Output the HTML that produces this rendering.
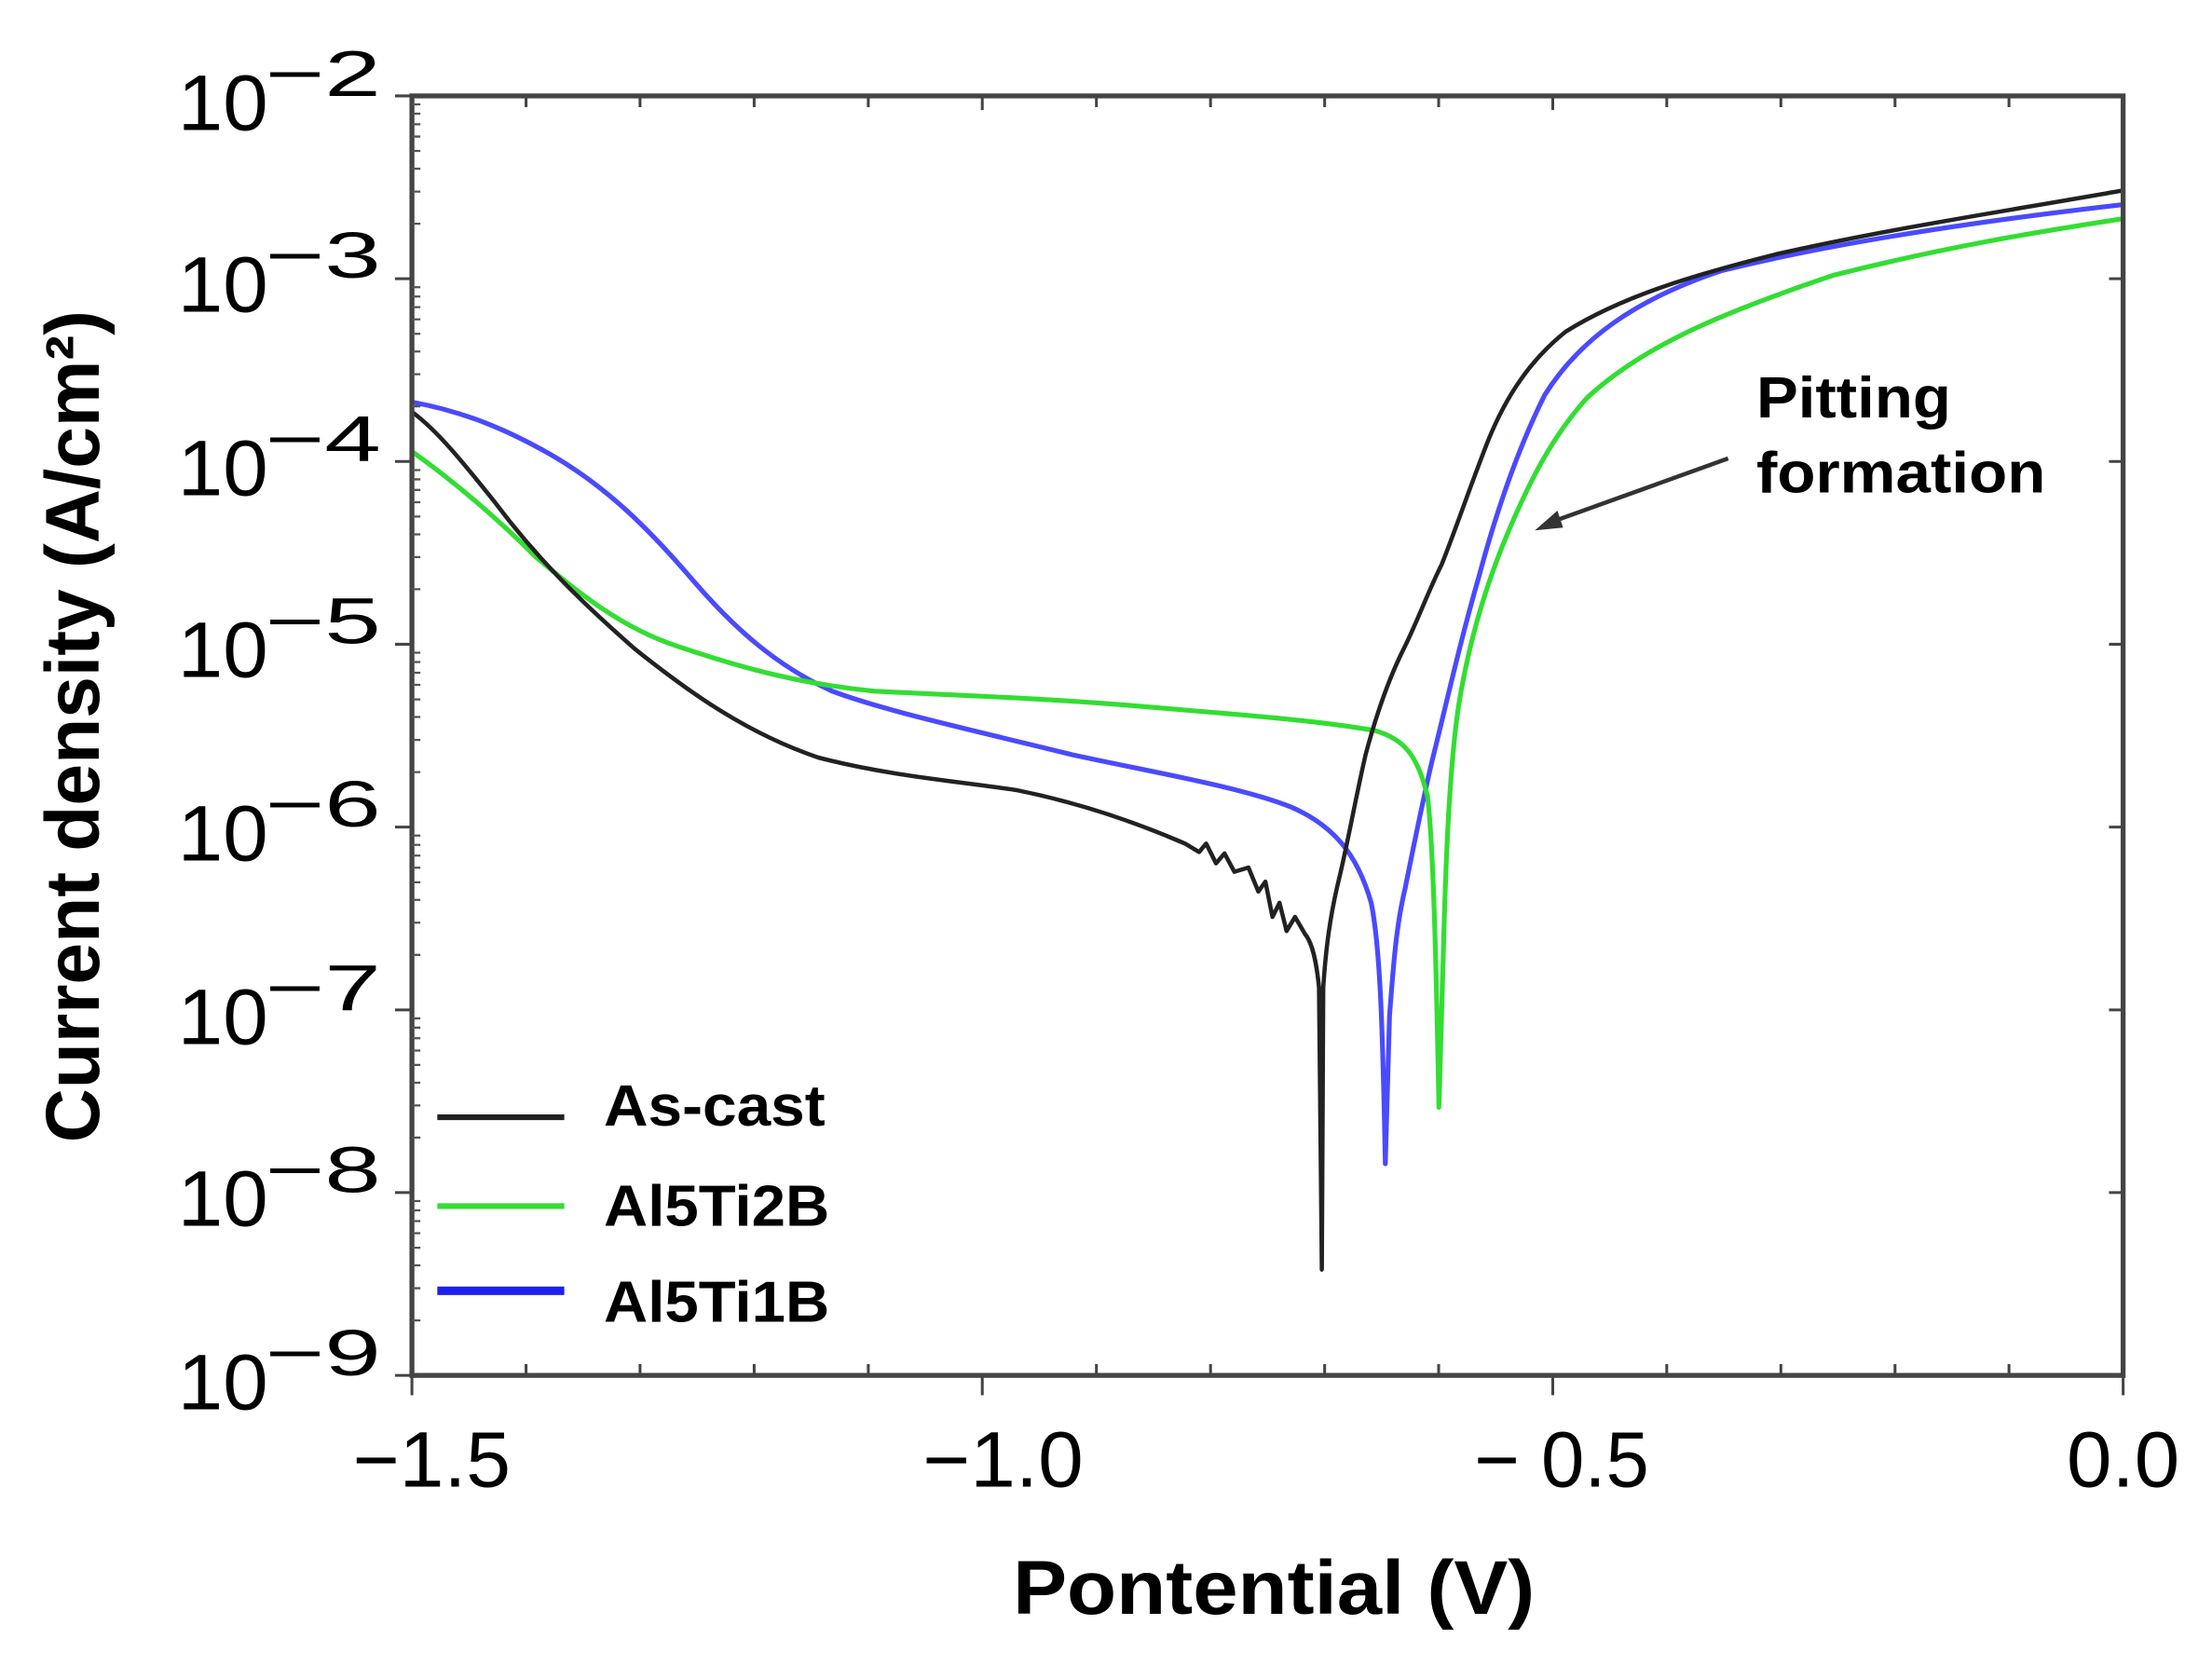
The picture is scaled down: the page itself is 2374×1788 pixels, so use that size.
<!DOCTYPE html>
<html><head><meta charset="utf-8"><style>
html,body{margin:0;padding:0;background:#fff;}
svg{display:block;}
text{font-family:"Liberation Sans",Arial,sans-serif;fill:#000;}
</style></head><body>
<svg width="2374" height="1788" viewBox="0 0 1568 1181" preserveAspectRatio="none" xmlns="http://www.w3.org/2000/svg">
<rect width="1568" height="1181" fill="#fff"/>
<g fill="none" stroke-width="3.4" stroke-linejoin="round">
<path stroke="#4a4aff" d="M292,285 C330,292 360,305 390,322 C430,345 460,375 490,410 C520,445 550,472 590,490 C630,505 700,520 760,535 C820,548 880,558 915,572 C945,585 962,605 972,640 C978,670 980,720 982,825 L985,720 C988,680 990,655 996,630 C1002,600 1008,570 1015,540 C1025,500 1035,455 1048,410 C1060,365 1075,320 1095,280 C1120,240 1160,212 1220,192 C1300,172 1400,157 1505,145"/>
<path stroke="#33dd33" d="M292,320 C320,340 350,365 380,395 C410,420 440,445 480,458 C530,475 570,485 620,490 C680,493 740,495 800,500 C870,506 930,510 975,518 C995,524 1005,535 1012,565 C1016,600 1018,680 1020,785 L1023,680 C1025,600 1028,540 1034,500 C1042,450 1055,410 1070,375 C1085,340 1100,310 1125,282 C1165,245 1220,222 1300,195 C1380,175 1440,165 1505,155"/>
<path stroke="#222" stroke-width="3" d="M292,292 C310,305 330,330 350,355 C380,395 410,425 450,460 C490,492 530,520 580,537 C630,550 680,554 720,560 C770,570 810,585 840,598 L850,604 L855,598 L862,612 L868,605 L875,618 L885,615 L892,632 L897,625 L902,650 L907,640 L912,660 L918,650 L925,662 C930,668 933,680 935,700 L937,900 L938,700 C940,670 943,650 948,628 C955,600 960,570 968,535 C976,505 985,480 995,460 C1005,440 1012,420 1022,400 C1032,375 1042,345 1055,312 C1068,280 1085,255 1110,235 C1150,210 1200,195 1260,180 C1340,162 1420,150 1505,135"/>
</g>
<rect x="292" y="68" width="1213" height="907" fill="none" stroke="#444" stroke-width="3.5"/>
<g stroke="#444" stroke-width="2">
<path d="M292,975v14M696.3,975v14M1100.7,975v14M1505,975v14"/>
<path d="M292,68v10M696.3,68v10M1100.7,68v10M1505,68v10"/>
<path d="M372.9,975v-8M453.7,975v-8M534.6,975v-8M615.5,975v-8M777.2,975v-8M858.1,975v-8M939,975v-8M1019.8,975v-8M1181.5,975v-8M1262.4,975v-8M1343.3,975v-8M1424.1,975v-8"/>
<path d="M372.9,68v8M453.7,68v8M534.6,68v8M615.5,68v8M777.2,68v8M858.1,68v8M939,68v8M1019.8,68v8M1181.5,68v8M1262.4,68v8M1343.3,68v8M1424.1,68v8"/>
<path d="M280,68h12M280,197.6h12M280,327.1h12M280,456.7h12M280,586.3h12M280,715.9h12M280,845.4h12M280,975h12"/>
<path d="M1505,197.6h-10M1505,327.1h-10M1505,456.7h-10M1505,586.3h-10M1505,715.9h-10M1505,845.4h-10"/>
</g>
<g stroke="#555" stroke-width="1.5">
<path d="M292,158.6h6M292,135.8h6M292,119.6h6M292,107h6M292,96.8h6M292,88.1h6M292,80.6h6M292,74h6
M292,288.1h6M292,265.3h6M292,249.2h6M292,236.6h6M292,226.4h6M292,217.7h6M292,210.2h6M292,203.6h6
M292,417.7h6M292,394.9h6M292,378.8h6M292,366.2h6M292,356h6M292,347.3h6M292,339.8h6M292,333.2h6
M292,547.3h6M292,524.5h6M292,508.3h6M292,495.8h6M292,485.5h6M292,476.9h6M292,469.3h6M292,462.7h6
M292,676.9h6M292,654.1h6M292,637.9h6M292,625.4h6M292,615.1h6M292,606.5h6M292,598.9h6M292,592.3h6
M292,806.4h6M292,783.6h6M292,767.5h6M292,754.9h6M292,744.7h6M292,736h6M292,728.5h6M292,721.9h6
M292,936h6M292,913.2h6M292,897h6M292,884.5h6M292,874.2h6M292,865.6h6M292,858h6M292,851.4h6"/>
</g>
<g font-size="56">
<text x="126" y="92" textLength="64" lengthAdjust="spacingAndGlyphs">10</text><text x="188" y="68" font-size="46" textLength="82" lengthAdjust="spacingAndGlyphs">−2</text>
<text x="126" y="221" textLength="64" lengthAdjust="spacingAndGlyphs">10</text><text x="188" y="197" font-size="46" textLength="82" lengthAdjust="spacingAndGlyphs">−3</text>
<text x="126" y="351" textLength="64" lengthAdjust="spacingAndGlyphs">10</text><text x="188" y="327" font-size="46" textLength="82" lengthAdjust="spacingAndGlyphs">−4</text>
<text x="126" y="480" textLength="64" lengthAdjust="spacingAndGlyphs">10</text><text x="188" y="456" font-size="46" textLength="82" lengthAdjust="spacingAndGlyphs">−5</text>
<text x="126" y="610" textLength="64" lengthAdjust="spacingAndGlyphs">10</text><text x="188" y="586" font-size="46" textLength="82" lengthAdjust="spacingAndGlyphs">−6</text>
<text x="126" y="740" textLength="64" lengthAdjust="spacingAndGlyphs">10</text><text x="188" y="716" font-size="46" textLength="82" lengthAdjust="spacingAndGlyphs">−7</text>
<text x="126" y="869" textLength="64" lengthAdjust="spacingAndGlyphs">10</text><text x="188" y="845" font-size="46" textLength="82" lengthAdjust="spacingAndGlyphs">−8</text>
<text x="126" y="999" textLength="64" lengthAdjust="spacingAndGlyphs">10</text><text x="188" y="975" font-size="46" textLength="82" lengthAdjust="spacingAndGlyphs">−9</text>
</g>
<g font-size="56">
<text x="250" y="1054" textLength="112" lengthAdjust="spacingAndGlyphs">−1.5</text>
<text x="654" y="1054" textLength="114" lengthAdjust="spacingAndGlyphs">−1.0</text>
<text x="1045" y="1054" textLength="124" lengthAdjust="spacingAndGlyphs">− 0.5</text>
<text x="1465" y="1054" textLength="80" lengthAdjust="spacingAndGlyphs">0.0</text>
</g>
<text x="718" y="1144" font-size="54" font-weight="bold" textLength="370" lengthAdjust="spacingAndGlyphs">Pontential (V)</text>
<text transform="translate(70,515) rotate(-90)" font-size="54" font-weight="bold" text-anchor="middle" textLength="590" lengthAdjust="spacingAndGlyphs">Current density (A/cm²)</text>
<g stroke-width="4">
<line x1="310" y1="792" x2="400" y2="792" stroke="#222"/>
<line x1="310" y1="855" x2="400" y2="855" stroke="#33dd33"/>
<line x1="310" y1="915" x2="400" y2="915" stroke="#2020ee" stroke-width="6"/>
</g>
<g font-size="41" font-weight="bold">
<text x="428" y="798" textLength="157" lengthAdjust="spacingAndGlyphs">As-cast</text>
<text x="428" y="869" textLength="160" lengthAdjust="spacingAndGlyphs">Al5Ti2B</text>
<text x="428" y="937" textLength="160" lengthAdjust="spacingAndGlyphs">Al5Ti1B</text>
</g>
<g font-size="41" font-weight="bold">
<text x="1245" y="296" textLength="138" lengthAdjust="spacingAndGlyphs">Pitting</text>
<text x="1245" y="349" textLength="205" lengthAdjust="spacingAndGlyphs">formation</text>
</g>
<line x1="1225" y1="325" x2="1100" y2="370" stroke="#333" stroke-width="3"/>
<polygon points="1088,376 1104,362 1108,374" fill="#333"/>
</svg>
</body></html>
